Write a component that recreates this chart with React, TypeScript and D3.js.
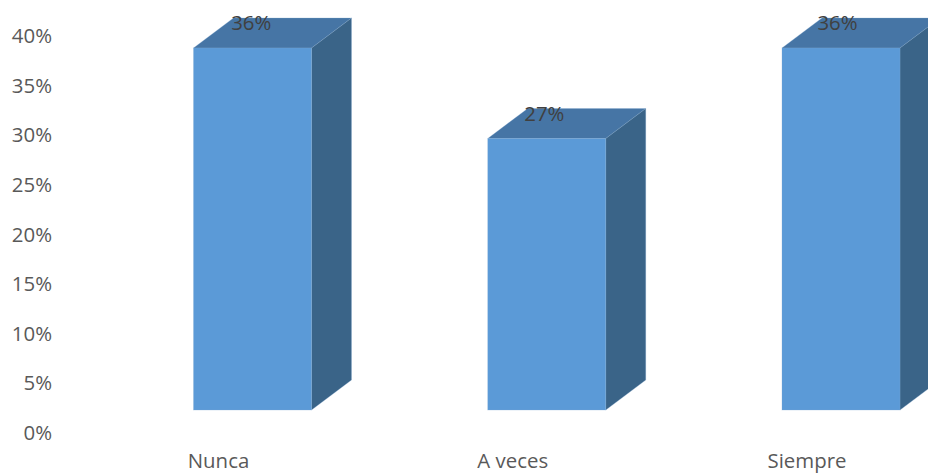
import React from "react";
import * as d3 from "d3";

const categories = ["Nunca", "A veces", "Siempre"];
const values = [36, 27, 36];
const valueLabels = ["36%", "27%", "36%"];
const yTicks = [0, 5, 10, 15, 20, 25, 30, 35, 40];

const FONT = "'Open Sans', 'Noto Sans', sans-serif";
const FS = 20.4;

export default function App() {
  const y = d3.scaleLinear().domain([0, 36]).range([410, 48]);
  const yTickScale = d3.scaleLinear().domain([0, 40]).range([432, 35]);
  const x = d3.scalePoint<string>().domain(categories).range([252.5, 841]);
  const xLabel = d3.scalePoint<string>().domain(categories).range([218.5, 807]);
  const xValue = d3.scalePoint<string>().domain(categories).range([251.3, 837.5]);
  const barW = 118;
  const dx = 40;
  const dy = 30;
  const edge = { stroke: "#7FA8D0", strokeOpacity: 0.35, strokeWidth: 0.8 };
  return (
    <svg width={928} height={474} style={{ position: "fixed", left: 0, top: 0, display: "block" }}>
      <rect width={928} height={474} fill="#fff" />
      {yTicks.map((t) => (
        <text key={t} x={52} y={yTickScale(t) + 8} textAnchor="end" fontFamily={FONT} fontSize={FS} fill="#595959">
          {t}%
        </text>
      ))}
      {categories.map((c, i) => {
        const cx = x(c)!;
        const l = cx - barW / 2;
        const r = cx + barW / 2;
        const b = y(0);
        const tp = y(values[i]);
        return (
          <g key={c}>
            <polygon points={`${l},${tp} ${r},${tp} ${r + dx},${tp - dy} ${l + dx},${tp - dy}`} fill="#4675A5" {...edge} />
            <polygon points={`${r},${tp} ${r + dx},${tp - dy} ${r + dx},${b - dy} ${r},${b}`} fill="#3A6488" {...edge} />
            <rect x={l} y={tp} width={barW} height={b - tp} fill="#5B9AD7" {...edge} />
            <text x={xValue(c)!} y={tp - 18} textAnchor="middle" fontFamily={FONT} fontSize={FS} fill="#404040">
              {valueLabels[i]}
            </text>
          </g>
        );
      })}
      {categories.map((c) => (
        <text key={c} x={xLabel(c)!} y={468.4} textAnchor="middle" fontFamily={FONT} fontSize={FS} fill="#595959">
          {c}
        </text>
      ))}
    </svg>
  );
}
